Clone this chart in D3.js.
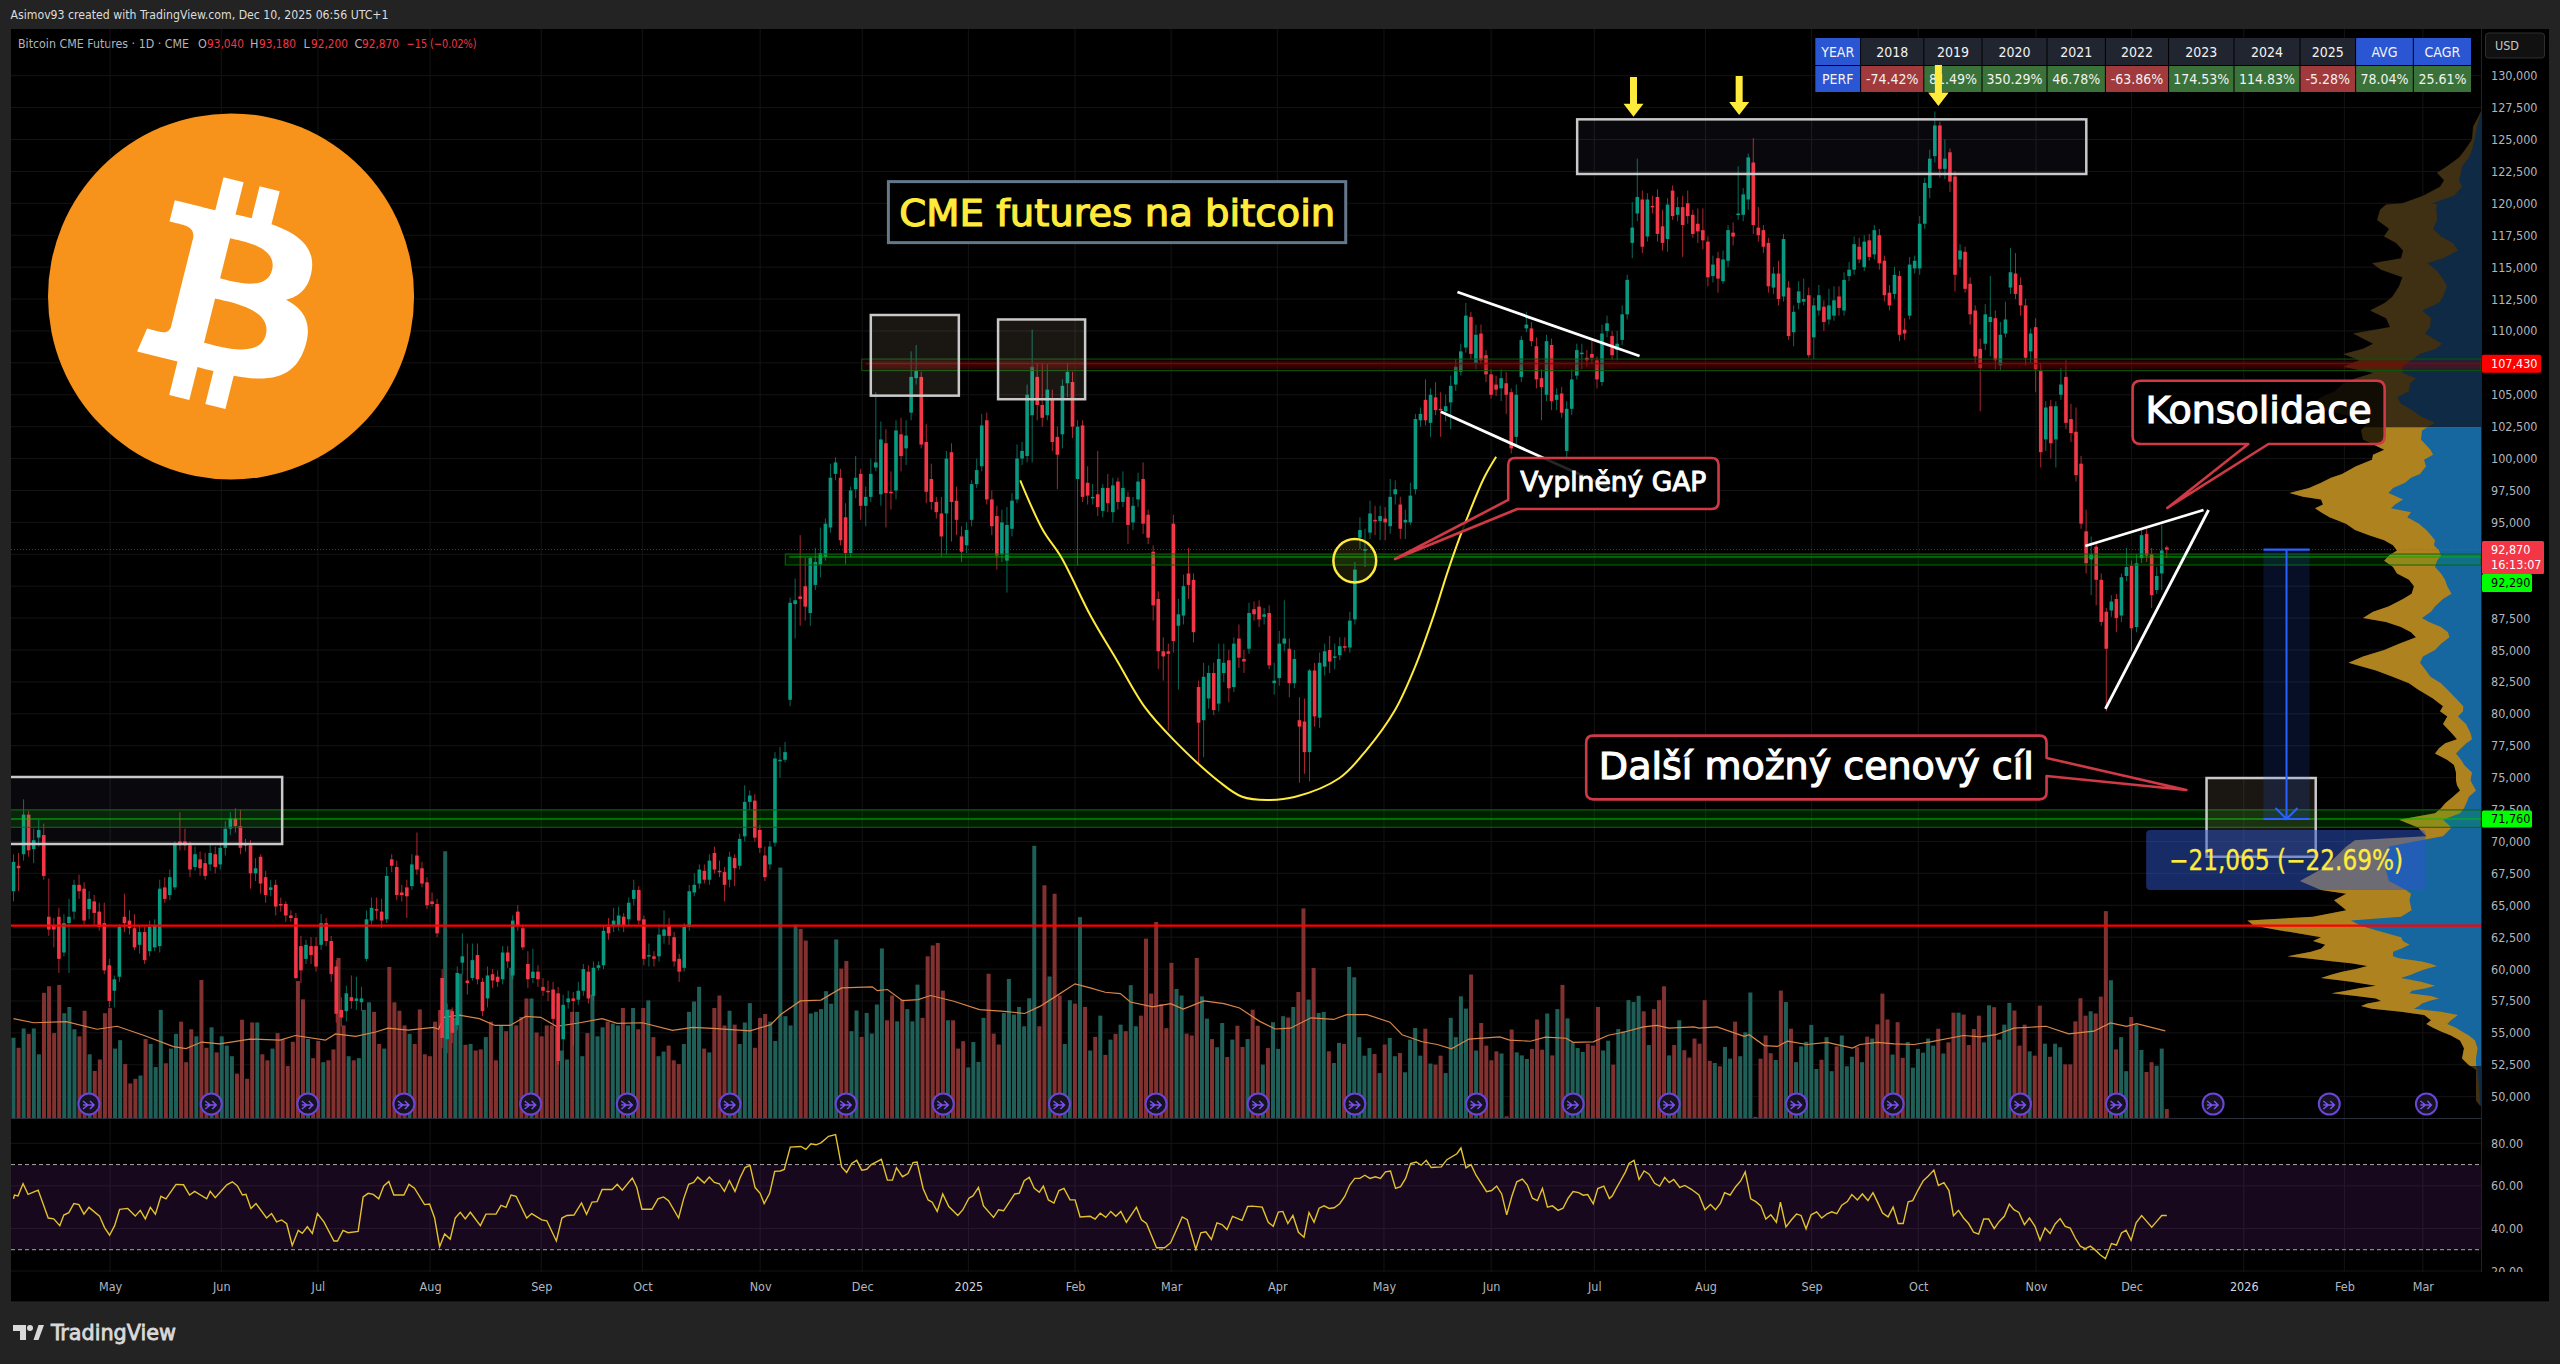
<!DOCTYPE html>
<html><head><meta charset="utf-8"><title>Bitcoin CME Futures</title>
<script src="https://cdn.jsdelivr.net/npm/d3@7"></script>
<style>
html,body{margin:0;padding:0;background:#232323}
svg{display:block}
text{font-family:"DejaVu Sans Condensed","DejaVu Sans",sans-serif;font-stretch:condensed}
.axis text{fill:#b2b5be;font-size:12.5px}
.axis path,.axis line{display:none}
</style></head><body>
<svg id="c" width="2560" height="1364"></svg>
<script>
// candle rows: [open, close, high, low] in thousands of USD
const candles2024a=[[66.1,68.4,69.0,65.3],[68.1,67.9,69.1,66.1],[69.0,72.1,73.3,68.5],[72.1,69.3,72.4,68.8],[69.4,70.1,71.0,68.3],[70.3,70.9,71.7,69.6],[70.5,67.3,71.4,67.0],[64.1,63.1,67.1,62.6],[63.4,63.1,64.0,61.7],[64.1,60.8,64.8,59.7],[61.3,63.6,64.3,61.0],[63.6,64.1,65.5,59.7],[64.5,66.6,67.0,63.9],[66.6,66.1,67.4,65.5],[66.3,63.8,66.8,63.5],[64.7,65.5,66.1,63.9],[65.3,64.4,65.8,63.4],[64.5,63.3,65.2,63.0],[63.6,59.9,65.2,59.6],[60.3,57.5,60.8,57.0],[58.3,59.2,59.5,57.0],[59.4,63.3,63.5,59.0],[64.1,63.6,65.9,62.9],[63.8,63.2,64.6,62.7],[63.2,61.7,64.3,61.5],[61.9,62.9,63.4,61.2],[62.9,60.7,63.3,60.4],[61.4,63.3,63.8,61.0],[61.7,63.4,63.9,61.4],[61.8,66.3,67.0,61.3],[66.4,65.5,67.2,65.2],[65.8,67.2,67.8,65.4],[66.4,69.8,70.0,66.2],[70.0,69.7,72.3,69.3],[70.0,69.7,71.0,69.3],[69.7,67.8,70.0,67.2],[68.0,69.0,69.6,67.7],[68.6,67.9,69.2,67.3],[68.3,67.3,69.1,67.0],[68.2,69.1,69.8,67.7],[69.0,68.0,69.6,67.5],[68.2,69.5,69.9,67.8],[69.5,71.0,71.6,68.9],[71.0,71.8,72.3,70.5],[71.8,71.2,72.6,70.7],[71.2,69.5,72.5,69.0],[69.8,69.7,70.2,69.2],[69.7,67.5,70.1,66.3],[67.5,67.9,68.7,66.9],[68.8,66.7,69.0,65.9],[67.2,65.8,67.7,65.2],[66.2,66.4,67.0,65.7],[66.6,64.9,67.0,64.2],[65.1,65.0,65.6,64.5],[65.1,64.2,65.3,63.7],[64.2,64.0,64.6,63.7],[64.0,59.3,64.4,59.2],[61.8,59.9,62.6,58.9],[60.8,61.9,62.3,60.4],[61.8,61.1,62.5,60.4],[61.8,60.2,62.5,59.8],[61.9,63.6,64.3,61.5],[63.6,62.2,64.0,61.8],[62.2,59.6,62.6,59.0],[60.2,56.5,60.7,55.8],[56.8,56.2,57.8,55.5],[56.7,58.1,58.7,55.9],[57.8,57.5,59.5,56.9],[57.5,57.7,59.4,56.8],[57.4,57.7,58.6,56.7],[60.8,63.9,64.6,60.6],[63.8,64.8,65.6,63.5],[64.7,64.6,65.6,63.9],[64.5,63.8,65.5,63.2],[63.9,67.3,68.0,63.6],[68.6,68.1,69.0,67.6],[68.0,65.8,68.5,65.4],[66.0,65.8,66.6,65.3],[66.4,65.7,67.0,64.0],[66.5,68.2,69.0,66.2],[68.9,67.8,70.7,67.4],[67.9,66.7,68.4,66.4],[66.8,65.0,67.2,64.7],[65.3,65.1,66.0,64.9],[65.1,62.8,65.5,62.5],[59.3,54.6,60.0,53.8],[54.5,56.8,57.3,53.4],[56.7,55.0,57.0,54.2],[55.6,59.7,60.2,55.2],[60.5,61.0,62.8,59.6],[59.1,58.9,62.0,58.0],[59.3,60.7,62.0,59.1],[61.1,59.2,62.0,58.8],[59.0,56.7,59.3,56.3],[57.7,59.5,60.2,57.0],[59.6,59.1,60.0,58.5],[59.4,59.0,59.9,58.6],[59.2,61.3,61.8,58.8],[61.3,60.6,61.8,60.1],[59.5,63.8,64.2,59.2],[64.5,63.4,65.0,63.0],[63.2,61.7,63.5,61.5],[60.4,59.2,61.4,58.5],[59.3,59.8,61.6,58.9],[59.8,59.2,60.3,58.6],[58.6,58.3,59.3,57.9],[58.3,58.2,59.1,57.5],[58.4,56.1,59.0,55.6],[58.1,52.8,58.6,52.5],[54.5,57.2,58.0,53.6],[57.4,57.7,58.3,56.9],[57.7,57.5,58.2,54.0],[57.6,58.3,59.0,57.2],[58.3,60.0,60.4,57.9],[59.8,57.7,60.3,57.3],[57.9,60.1,60.6,57.5],[60.1,60.3,60.6,59.9],[60.3,63.0,63.4,60.0],[63.3,62.8,64.0,62.3],[63.4,63.8,64.8,62.9],[63.4,64.2,64.9,63.0],[64.1,63.4,64.4,62.9],[63.9,65.2,65.6,63.4],[65.5,66.2,67.0,65.0],[66.2,63.8,66.5,63.5],[63.9,60.8,64.2,60.3],[61.0,61.1,62.0,60.2],[61.0,60.8,61.4,60.2],[61.0,62.7,63.5,60.6],[62.6,63.1,64.6,62.0],[63.4,62.6,64.0,61.9],[62.5,60.6,62.9,60.2],[60.8,59.8,61.2,59.0],[60.1,63.3,63.6,59.8],[63.3,66.1,66.6,63.0],[66.0,66.6,67.5,65.7],[66.7,67.8,68.2,66.3],[67.7,67.0,68.2,66.7],[67.0,68.5,69.0,66.6],[69.1,67.8,69.6,67.5],[67.7,67.6,68.5,67.2],[67.6,66.6,68.0,65.3],[67.0,68.8,69.2,66.4],[68.7,67.9,69.0,66.5],[68.1,70.2,70.6,67.8],[70.4,73.1,74.4,70.0],[73.1,73.6,74.0,72.5],[73.2,70.3,73.7,70.0],[70.9,69.5,71.3,69.1],[68.9,67.2,69.6,66.9],[68.2,69.6,70.0,67.8],[69.9,76.5,77.0,69.6],[76.3,76.4,77.4,75.0],[76.4,77.0,77.8,76.2]];
const candles2024b=[[81.1,88.7,89.1,80.6],[88.6,88.9,90.6,85.9],[89.2,89.0,94.0,86.9],[90.0,88.4,92.2,87.3],[87.9,92.2,92.3,86.9],[90.1,91.9,93.0,89.7],[91.7,92.6,94.6,90.7],[92.3,94.9,95.3,92.0],[94.6,98.5,99.6,94.2],[98.8,99.7,100.1,98.3],[98.5,93.6,99.2,93.2],[95.4,92.6,96.5,91.7],[92.6,97.5,97.8,92.3],[97.6,98.5,100.2,96.9],[98.8,96.3,99.2,95.2],[96.3,97.0,97.8,94.7],[97.0,98.8,100.0,96.6],[99.3,99.7,105.2,99.0],[97.2,101.5,102.9,96.3],[101.2,97.3,102.3,94.6],[97.4,97.3,99.0,96.0],[97.5,102.2,103.0,96.8],[101.9,100.2,103.2,99.0],[100.8,101.8,103.0,99.5],[103.6,106.4,108.4,103.0],[106.3,106.9,108.9,105.8],[106.4,101.1,106.8,100.8],[101.3,97.4,102.7,96.5],[98.4,96.6,99.6,96.0],[96.6,95.8,97.0,95.3],[95.7,93.9,97.0,92.3],[95.7,100.0,100.6,92.5],[100.5,96.6,101.2,93.5],[96.7,95.2,97.8,94.0],[93.9,92.7,94.7,91.9],[93.2,94.4,95.0,92.6],[95.2,98.0,98.3,94.7],[98.0,99.1,100.0,97.7],[99.4,102.6,103.5,99.0],[103.0,96.8,103.6,96.4],[96.8,94.7,97.5,94.0],[95.5,92.4,96.3,91.3],[92.5,95.0,96.0,91.9],[92.0,94.8,96.2,89.5],[94.5,96.7,97.3,93.9],[96.8,100.0,101.1,96.5],[100.0,100.6,101.3,99.5],[100.2,105.0,105.8,99.7]];
const candles2025a=[[103.4,107.2,110.1,99.7],[106.4,104.2,107.5,103.0],[104.2,103.2,107.5,102.5],[103.4,105.4,107.4,103.0],[104.6,101.3,105.4,100.6],[101.7,100.3,102.5,97.6],[101.9,105.7,106.2,100.8],[105.9,106.8,107.5,104.8],[106.0,102.5,106.8,101.6],[98.4,102.5,103.0,91.6],[102.6,97.0,103.0,96.6],[98.1,97.1,99.4,96.4],[96.9,97.0,98.0,96.4],[97.2,96.2,100.6,95.5],[95.9,97.7,98.0,95.4],[97.7,96.5,98.8,95.8],[95.8,97.9,98.5,95.0],[98.2,96.6,98.5,96.0],[96.6,97.7,99.0,96.2],[97.0,94.8,97.4,93.3],[95.0,96.3,97.0,94.4],[96.8,98.2,98.9,96.2],[98.4,94.9,99.7,94.1],[95.6,93.8,96.0,93.3],[92.7,88.5,93.2,87.3],[89.0,84.9,89.6,83.5],[84.9,84.5,86.0,82.6],[84.9,84.7,85.5,78.7],[94.9,85.7,95.6,84.8],[86.9,87.8,89.0,81.9],[87.7,90.0,90.9,87.0],[91.0,90.1,93.0,89.0],[90.5,86.4,91.0,85.6],[82.1,79.3,82.6,76.0],[79.5,82.9,84.0,76.6],[81.2,83.2,83.8,80.4],[83.2,80.3,84.0,79.9],[80.8,84.3,85.5,80.2],[83.2,84.0,85.5,82.5],[84.2,82.0,85.0,80.9],[82.1,85.5,86.0,81.7],[85.9,84.4,87.0,83.6],[84.3,84.1,85.0,83.2],[85.1,87.9,88.7,84.7],[88.2,87.8,88.8,87.3],[88.4,87.4,88.9,86.8],[87.6,87.8,88.3,87.0],[87.9,83.8,88.5,83.5],[82.4,82.6,84.0,81.5],[82.8,85.5,86.5,82.2],[85.5,85.9,88.9,84.9],[85.1,82.4,85.9,81.3],[82.4,84.3,85.0,82.0],[79.5,79.0,81.3,74.6],[79.4,77.0,81.2,75.3],[77.0,83.4,83.5,74.7],[83.4,79.8,84.0,79.0],[79.7,84.0,84.8,78.9],[83.7,84.9,85.5,83.0],[85.0,84.1,86.1,83.2],[84.4,84.5,85.5,83.5],[84.6,85.3,86.0,84.2],[85.3,85.2,86.0,84.9],[85.2,87.3,88.0,84.8],[87.4,91.3,91.9,87.0],[93.8,94.4,95.4,92.9],[92.8,92.9,94.5,91.5],[94.2,95.7,96.7,93.7],[95.2,95.1,96.3,94.0],[95.1,95.5,96.3,93.6],[95.3,95.0,96.2,93.6],[94.7,97.0,98.4,94.1],[97.2,97.6,98.3,96.4],[96.4,94.5,97.0,93.7],[95.0,95.2,96.0,93.7],[95.0,97.1,98.1,94.8],[97.6,103.1,103.5,97.2],[103.0,103.5,104.0,102.5],[104.6,103.0,106.2,102.6],[102.8,105.0,105.5,101.7],[104.8,103.8,106.0,103.4],[103.9,103.8,105.2,101.7],[103.7,104.1,105.0,102.9],[104.4,105.7,106.5,102.3],[105.8,107.2,107.8,105.3],[106.8,108.4,109.0,106.5],[108.7,111.2,112.2,108.3],[111.1,108.2,111.5,107.8],[107.5,109.7,110.5,107.0],[109.8,107.7,110.5,107.4],[108.1,106.6,108.5,106.0],[106.6,105.0,107.0,104.7],[105.8,105.4,106.5,104.9],[105.5,106.3,107.0,104.5],[105.9,105.0,106.8,103.5],[105.2,100.8,105.5,100.4],[101.7,105.0,105.8,101.0],[106.4,109.3,109.6,106.0],[110.2,110.5,111.5,109.9],[110.2,109.2,110.7,108.8],[108.8,106.2,109.5,105.5],[106.3,105.6,107.0,103.0],[105.0,109.2,109.7,104.5],[108.9,104.5,109.4,103.8],[104.6,105.0,105.5,103.8],[105.1,103.6,105.6,103.2]];
const candles2025b=[[100.6,103.9,104.5,99.7],[103.9,106.2,107.0,103.4],[106.5,108.5,109.0,106.2],[108.2,108.3,109.0,107.0],[107.9,107.7,108.5,107.2],[108.2,107.9,109.2,107.4],[107.7,106.2,108.0,105.5],[106.0,109.8,110.5,105.7],[110.0,110.6,111.2,109.5],[109.6,108.1,110.0,107.7],[108.5,109.0,110.0,107.7],[109.3,111.3,112.0,108.9],[111.3,114.0,114.4,110.9],[116.9,118.1,120.1,115.7],[119.2,120.5,123.5,118.6],[120.3,116.6,121.0,116.1],[117.4,120.3,120.8,117.0],[119.8,119.7,120.6,119.2],[120.5,117.6,121.1,117.0],[118.2,116.9,119.5,116.3],[117.2,119.9,120.4,116.2],[121.0,119.0,121.4,118.7],[119.1,119.7,120.5,118.6],[119.7,118.3,120.6,115.8],[120.0,119.0,121.0,118.4],[119.1,117.6,119.5,117.3],[118.4,117.8,119.6,116.9],[117.9,117.1,119.6,116.4],[117.0,114.2,117.4,113.5],[114.3,115.2,115.9,113.8],[115.7,114.1,116.2,113.0],[113.9,115.6,116.3,113.7],[115.5,117.9,118.3,115.0],[117.7,117.4,118.5,116.7],[119.1,119.2,122.9,118.7],[119.1,120.7,121.2,118.6],[120.3,123.6,123.9,119.5],[123.2,118.3,125.1,117.6],[118.1,117.5,119.7,117.0],[117.9,116.6,118.3,116.1],[116.9,113.5,117.3,113.0],[113.4,114.5,115.0,112.9],[114.5,112.5,115.5,112.0],[112.7,117.2,117.6,112.3],[113.4,109.6,113.9,109.3],[109.9,111.5,112.0,108.8],[112.2,113.1,113.9,111.7],[112.3,112.5,114.1,112.0],[112.8,108.1,113.4,107.9],[109.5,112.0,112.6,107.8],[111.6,112.8,113.6,111.2],[111.9,110.7,112.4,110.0],[110.9,112.0,113.3,110.5],[111.2,112.4,113.5,110.8],[112.7,111.8,113.5,111.2],[111.6,114.0,114.6,111.2],[114.3,114.8,115.4,113.9],[114.8,116.8,117.4,114.4],[116.6,115.6,117.3,115.3],[115.0,117.0,117.5,114.7],[117.1,115.8,117.6,115.5],[116.0,117.9,118.3,115.6],[117.5,115.3,118.0,114.8],[115.5,112.8,115.9,112.3],[113.0,112.0,113.6,111.6],[112.9,114.4,115.0,112.5],[114.3,109.7,114.7,109.2],[110.1,109.8,111.0,109.3],[111.2,115.2,115.8,110.9],[114.9,115.5,115.9,114.5],[114.9,118.4,119.0,114.4],[118.4,121.6,122.0,118.0],[121.2,123.5,124.2,120.4],[123.7,126.1,127.2,123.2],[126.1,122.7,126.4,122.0],[122.7,123.5,125.0,121.9],[124.0,121.7,124.3,120.9],[122.1,114.4,122.5,113.1],[115.6,116.3,116.8,115.0],[116.2,113.3,116.6,113.0],[113.7,111.3,114.2,110.5],[111.6,108.0,112.0,107.5],[108.6,107.1,109.4,103.7],[109.0,111.3,112.1,108.5],[110.7,111.1,114.3,108.0],[111.0,107.7,111.6,107.0],[107.3,109.7,110.7,106.9],[109.8,110.9,112.3,109.5],[113.4,114.6,116.5,112.9],[114.5,112.9,116.1,112.5],[113.6,112.0,114.2,111.2],[112.0,107.9,112.5,107.3],[108.4,109.8,110.2,107.5],[110.3,107.0,111.0,105.2],[106.9,100.5,107.5,99.3],[101.5,104.0,104.5,100.6],[104.1,101.2,104.6,100.0],[101.5,104.1,104.5,99.3],[105.0,105.8,107.1,104.6],[106.4,102.8,107.7,102.3],[103.1,102.0,104.3,101.3],[102.1,98.7,104.0,98.2],[99.6,94.9,100.2,94.5],[94.3,91.8,96.0,91.0],[92.1,92.5,93.9,89.3],[93.1,90.5,93.5,88.5],[90.5,87.2,91.0,86.9],[88.0,85.1,88.3,80.2],[88.1,88.8,89.3,87.6],[89.0,87.5,89.4,86.4],[87.7,90.7,91.0,87.2],[90.8,91.5,93.0,90.4],[91.6,86.7,92.0,84.9],[86.8,91.8,92.5,86.4],[92.2,94.0,94.4,91.8],[94.1,92.4,94.5,91.9],[92.5,89.3,93.0,88.3],[89.7,90.8,91.5,89.4],[91.0,92.8,94.8,89.7],[93.04,92.87,93.18,92.2]];

// daily contract volume, relative (100 = tallest bar, late Jan 2025)
const volume2024=[29.5,25.8,32.9,30.9,32.9,23.4,46,48.4,31.2,48.9,38.5,40.8,32.6,30,39.4,23.4,17.3,21.5,38.5,40.4,25.5,28.6,19.8,12.7,14.4,15.6,29,27.2,18.7,39.7,20.1,25.5,30.9,35.4,20.5,32.6,30,50.7,25.8,33.3,24.1,30,26.6,22.7,16.3,36.1,14.4,35.1,35.1,23.4,21.2,25.5,31.2,29,19.1,28,50.3,43.6,29,22,28.3,20.5,21.2,25.2,58.8,34,22.7,21.2,22,39.7,42.5,39,27.2,25.5,55.5,42.5,39.4,34,30.9,27.2,39.9,23.4,22.7,35.4,39.7,98,39.9,36.8,53,26.9,27.2,24.8,25.2,29.7,35.4,21.2,34,31.9,55.2,34,37.1,43.9,43.9,31.4,30,34,34,33.3,24.8,21.5,39,39,22.7,31.2,45.3,30,33.3,35.4,34.7,34,40.4,34,40.4,32.6,40.4,43.2,29.7,22.7,24.4,26.6,21.2,19.8,27.2,39,42.8,48.2,25.5,24.1,40.4,45,34,39.4,34.3,27.2,35.1,42.2,25.8,36.8,38.2,35.4,28.3,92,37.4,34,71,69.5,65.2,38.4,39,40,46.6,42,65.6,54.9,57.7,31.9,39.5,29.8,38.6,31,41.7,62.3,35.9,45,35.5,43.5,40,35.5,49,36.8,59.4,63.4,64.3,46.8,35.9,35.9,25.5,28.2,18.6];
const volume2025=[27.9,20.6,36.8,53,31,27,38.6,51.1,38,40.8,33.7,44,100,33.7,85.5,52,82.4,45,27.2,43.3,42,73.8,40.8,24.8,29.8,37.6,23.2,28.8,30.9,34.3,31.9,48.8,33.7,37.6,65.9,45.7,72,41.9,33,57,47.4,45,31,30.3,58.8,44.7,36.5,29,26,34.9,22.4,28.8,33.9,26.1,29,39.8,33.9,19.6,25.7,35.2,25.4,37.4,36.9,40.8,46.3,77,43.5,55.1,38.6,39,24.5,20.2,27.6,27.2,55.5,51.7,29.7,22.9,25.7,23.5,16.5,27,29.4,22.7,23.9,16.8,28.8,33.1,22.9,32.8,20,19.6,22.9,16.5,36.8,29.7,44.7,40.2,52.7,24.8,34.9,26.6,21.2,24.5,23.7,0.6,32.5,24.1,23,21.7,25.4,36.2,25.1,38.4,23,40,48.9,36.6,27.8,25.7,24.3,27.2,26.6,40.8,24.8,28.4,19.6,32.7,31.9,43.3,42.6,44.9,39.2,26.8,40,43.3,48.4,23,26.8,35.9,24.9,22.2,29.2,27.3,43.3,21,20.2,19,26.1,21.8,35.4,22.7,31.5,46.1,0.4,21.8,30.3,23.8,21.3,46.8,42.6,32.8,20.5,26.3,28,34.2,18,21.4,29.7,17.2,26.3,30.3,19,22.5,26,20.5,29.9,29.2,34.4,45.7,36.2,23.3,35.2,22.1,27.9,18.5,25.4,24,29.2,26.6,32.8,23.7,27.8,38.7,38.7,38,26.8,32.7,37.6,27.8,41.4,40.7,28.8,34.3,42.3,39.5,26.6,34.3,24.5,22.9,41.3,27.3,22.5,27.3,26,19.7,19.7,35.5,44,37.6,39.2,38.4,44.6,76,50.6,25.2,29.7,17.2,37.1,34.3,25,16.9,20.5,19.2,25.5,3.3];

// volume moving average, [trading-day index, value]
const volumeMA=[[0,36.5],[4,35],[10.5,35.4],[16.6,32.6],[20.6,33.7],[25.7,30.5],[31.8,26.2],[34.3,25.5],[37.4,27.9],[41,27.2],[47,29],[53,28.6],[56,30.3],[62,28.6],[64,30.9],[68,30],[72,31.6],[74.4,33],[78.5,32.3],[83.5,33.3],[84.5,32.6],[85.5,37],[88.6,37.8],[92.6,36.5],[95.7,34],[98.7,34],[101.8,37.3],[104.8,37],[107.9,33.7],[112,34.8],[117,36.5],[120,34.8],[125,35],[131,32.2],[135,33.3],[139,32.9],[146.4,32],[150.5,34.3],[152.5,38],[156.4,43],[160.5,43.3],[164.6,47.8],[170.7,48.2],[171.7,46.8],[173.7,47.2],[176.7,43.1],[179.8,43.5],[182.3,45],[186.9,42.9],[192,39.8],[197,39.2],[201,38.4],[204,41],[207,44.5],[211,49.3],[214,47.8],[217,46.2],[220,45.7],[222,42.6],[226.4,40.8],[230,42],[232.5,40],[236.6,43],[240.6,42],[243.7,40.4],[247.7,35.5],[250.8,32.7],[253.8,33],[257.9,36.8],[262.4,36.2],[265,38],[269,38],[273.6,35.2],[276,30.6],[280,28],[283,27],[285.8,25.4],[289.3,29],[295.4,29.8],[297.4,28.6],[301.5,28.2],[304.5,29.7],[308.6,29.3],[310,27.8],[314,28],[317,30.4],[320,31.5],[324,33.5],[326.7,34],[329,33],[334,33.5],[335,33],[338.6,33.5],[344,30],[345,30.6],[348,26.6],[350.6,26.3],[352.6,28.2],[356.5,27],[360.5,27.8],[365.5,25.7],[367,27],[370.5,27.8],[373.8,27.2],[377.7,27],[381,28],[387.6,30.3],[391,29.8],[394,30.6],[397.6,33],[404,33.7],[408.5,30.9],[413.5,31.9],[416.8,34.9],[420,33.7],[422,34.7],[427.7,32]];

// RSI, [trading-day index, value]
const rsi2024=[[0,53.9],[0.2,55.7],[0.9,55.3],[1.9,61],[2.9,56],[4.9,58],[6.9,44.9],[8,44.5],[9.2,41.3],[10,46.3],[11,47.4],[12,51.7],[13,51.2],[14,46.7],[15,49.9],[17.1,45.8],[18.1,40.4],[19.1,36.8],[20.1,41.3],[21.1,49],[22.7,49.4],[24.2,45.8],[25.2,48.5],[26.2,44.5],[27.2,49.9],[28.2,46.7],[29.3,55.1],[30.3,53.9],[32.3,60.7],[33.8,60.5],[35,55.7],[36,57.4],[38.4,53.9],[39.1,57.4],[40.1,54.4],[42.4,60.5],[43.5,61.9],[44.5,60],[45.5,55.7],[46.2,56],[47.2,49.4],[48.2,51.7],[50.3,44.9],[51.3,47],[52.3,43.1],[53.3,44],[54.3,42.2],[55.4,32],[56.6,39.1],[57.4,37.7],[58.4,40.8],[59.4,37.7],[60.4,47],[61.7,43.1],[63.7,34.1],[64.4,34.1],[65.5,39.1],[66.5,38],[68.5,38.6],[69.5,54.8],[70.5,56.5],[71.5,56],[72.6,53.9],[73.6,60],[74.6,62.1],[75.6,55.7],[77.6,55.7],[78.6,60.7],[79.7,58.9],[81.7,51.2],[82.7,51.5],[83.7,44.9],[84.7,31.4],[85.7,37.4],[86.8,35],[87.8,44.9],[88.8,47.6],[89.8,44.5],[90.8,47.6],[92.8,41.3],[93.9,46.7],[95.9,46.7],[96.9,50.8],[97.9,49.9],[98.9,55.7],[99.9,55.1],[102,44.9],[103,47],[105,44],[106,43.6],[107.9,34.1],[109,44.9],[110,46.1],[111.4,46.3],[112.9,52],[113.9,46.7],[115,52.4],[116,52.6],[117,58.3],[119,58.3],[120,60.7],[121,58],[123,63.7],[123.9,59.2],[124.9,49],[126.9,49],[128.1,53.9],[129.2,54.8],[130.2,53],[132.2,44.9],[133.2,53.9],[134.2,60.7],[135.2,61.6],[136,64.1],[137.3,61.4],[138.3,64.1],[139.3,61.6],[140.3,61],[141.3,57.4],[142.3,62.5],[143.4,57.4],[144.4,63.7],[145.4,68.6],[146.4,69.6],[147.4,59.2],[148.4,56.5],[149.2,51.7],[150.3,56.5],[151.3,66.8],[152.4,67],[153.2,67.7],[154.4,78.2],[156.5,78.5],[157.5,77.1],[158.5,79.8],[159.5,79.3],[160.5,80.2],[162,83.3],[163.4,84.1],[164.6,68.9],[165.6,66.3],[166.6,70.5],[167.6,72],[168.6,67.4],[169.6,67.8],[170.5,70],[172.5,72.5],[173.7,62.7],[174.7,62.7],[175.5,68.5],[176.7,64.3],[177.8,65.8],[178.8,70.9],[179.6,71.2],[180.8,58.8],[181.8,53.4],[182.6,52.3],[183.6,48],[184.7,56.2],[185.9,50.3],[187.7,46.1],[188.7,48.8]];
const rsi2025=[[189.9,54.2],[190.7,55.3],[191.8,59.3],[192.8,50.6],[194.8,45.2],[195.8,48.8],[196.8,48.3],[199,56.2],[199.9,56.5],[200.9,62.4],[201.9,64],[202.9,58.8],[203.9,57],[204.7,59.9],[205.7,53.4],[206.8,51.9],[207.8,57.8],[208.8,58.8],[210,53.4],[211,53.4],[212,45.4],[214,45.7],[215,44.4],[216,47.2],[217.1,45.2],[218.1,48],[219.1,45.7],[220.1,48],[221.2,42.9],[223.2,50],[224.2,44.1],[225.2,42.3],[227.2,30.9],[228.8,30.9],[230,33.3],[232.3,45.4],[233.3,44.1],[235,30.2],[236,37.9],[237,38.4],[238.1,34.8],[239.2,42.6],[240.2,41.8],[241.2,39.5],[242.3,45.7],[244.2,43.8],[245.3,50.3],[246.2,50.5],[248.2,50],[249.4,42.9],[250.4,41],[251.4,47.7],[252.3,48],[253.3,42.3],[254.3,46.1],[255.4,38.2],[256.5,35.9],[257.5,47.5],[258.5,42.9],[259.5,49.5],[260.5,50.6],[261.5,49.4],[262.5,49.7],[263.6,51.6],[264.6,55],[265.6,60.4],[266.6,63.5],[267.6,63.5],[268.6,65],[269.6,63.5],[270.7,64.3],[271.7,63.5],[272.7,66.6],[273.7,67],[274.7,58.8],[275.7,59.6],[276.7,63.5],[277.7,70.5],[278.8,71.2],[279.8,69.7],[280.8,72],[281.8,68.6],[283.8,68.9],[284.9,72.3],[286.9,75.1],[287.7,77.8],[288.7,68.5],[289.7,70],[290.7,65],[292.8,57.3],[293.8,57.8],[294.8,59.9],[295.8,56.2],[296.8,46.4],[297.8,55],[298.8,61.9],[299.9,63.2],[300.9,60.4],[301.9,54.2],[302.9,53.1],[303.9,58.8],[304.9,50],[305.9,50.6],[307,48.5],[308,49.5],[309,54.2],[310,57.3],[311.1,56.8],[312,55.6],[312.9,55.9],[314,51.6],[314.9,58.7],[316.1,59.9],[317.2,54],[317.8,55.3],[318.4,58.1],[319.4,62.3],[320.4,66.6],[321.1,70.5],[322.1,72],[323.1,63],[324.1,67],[325.1,65.5],[326.2,61.2],[327.2,59.9],[328.2,64],[329.1,61.5],[330,63],[331.2,59.3],[332.2,60.2],[333.5,58.4],[335,55.7],[336.2,48.8],[337.3,51.2],[338.3,48.8],[339.3,51.9],[340.1,56.8],[341.2,55.7],[342.3,59.6],[343.3,62.3],[344.2,66.6],[345.3,53.9],[346.3,52.6],[347.3,50.6],[348.3,44.4],[349.3,46.4],[350.4,42.9],[351.2,52.3],[352.3,40.7],[353.4,44.1],[354.4,46.8],[355.3,46.1],[356.3,39.8],[357.3,46.4],[358.4,47.8],[359.4,44.9],[360.5,46.9],[361.4,47.8],[362.4,46.9],[363.4,50.9],[364.5,52.6],[365.4,55.9],[366.5,53.4],[367.5,56.2],[368.6,53.1],[369.6,56.8],[370.6,51.9],[371.5,47.2],[372.6,45.4],[373.6,50],[374.6,42.3],[375.6,42.3],[376.6,52.5],[377.5,53.1],[378.5,57.8],[379.6,62.4],[380.6,64.6],[381.7,67.4],[382.6,60.2],[383.7,61.5],[384.7,57.8],[385.6,46],[386.6,48.5],[387.6,44.9],[388.6,42.3],[389.6,38.2],[390.6,37.3],[391.6,44.4],[392.6,44.4],[393.7,39.9],[394.7,43.3],[395.7,45.7],[396.7,51.4],[397.6,48.8],[398.6,47.5],[399.7,41.8],[400.7,44.9],[401.8,41],[402.8,34.4],[403.8,40.2],[404.8,37.6],[405.8,42.1],[406.8,44.6],[407.8,41],[408.8,40.2],[409.8,35.5],[410.8,31.7],[411.8,30.5],[412.8,31.7],[413.8,29.8],[414.8,27.5],[415.8,25.8],[417,32.9],[418,32.2],[419,37.9],[419.9,39.2],[420.9,34.4],[421.9,42.6],[423,46],[424,43.3],[425,40.6],[426,43.3],[427,46.1],[428,46.1]];

// volume profile rows: [price k, total, up-part]
const profileRows=[[127.2,0,0],[126,8,4],[125,9,6.5],[124.2,16,9],[122.9,34,19],[122.4,44,20],[121.3,41,19],[120,78.6,48.8],[119.5,101,44.8],[118.7,104,43.8],[117.4,97,40],[116.3,78,23],[115.3,109,53.7],[114.2,78.6,39],[112.7,88.5,37.8],[111.6,111,58.7],[110.3,91,51],[109.8,128,56],[109,108,39],[108.2,138,61],[107.2,138,78.6],[106.7,108,78.6],[105.9,138,71],[104.8,160,83.6],[103.8,158,69],[102.8,113,46],[102.2,120,59],[100.7,96.8,50.5],[99.9,109,57],[98.8,139,61],[98.1,160,76],[97.3,191.5,92.6],[96.8,160,78],[96.1,166,90],[95.4,151.5,73.7],[94.4,126,54.7],[93.6,96.8,46],[92.8,84,42],[92,96.8,44],[91,84,40],[90,67,33.7],[89.4,69.4,29.5],[88.4,92.6,46],[87.5,118,59],[86.8,80,40],[86,65,31.6],[85,96.8,46],[84,132.6,61],[82.9,88.4,50.5],[81.9,63,33.7],[80.6,38,17.7],[79.8,33.7,23],[78.5,29.5,10.5],[77.7,35.8,14.7],[76.9,46,25],[76,27,16.8],[74.8,25,10.5],[74,21,5],[73,35.8,14.7],[72.2,46,21],[71.7,82,38],[71.1,63,29.5],[70.4,54.7,38],[70.1,126,60],[69.6,134.7,92],[68,155.7,96],[66.9,181,92],[66.2,160,75],[65.9,134.7,70],[65.4,147,71.5],[64.6,134.7,69.4],[64.1,168,80],[63.8,233.6,130],[63.4,227,120],[63.05,202,105],[62.5,160,80],[61.9,155.7,71.5],[61.35,170,88],[61,193.6,88],[60.6,147,59],[60.25,113.6,44],[59.8,139,63],[59.3,160,80],[58.7,105,46],[58.3,134.7,69],[58.1,149.4,71.5],[57.7,105,42],[57.3,113.6,59],[56.9,109,67],[56.4,56.8,23],[55.7,54.7,33.7],[55.1,40,19],[54.4,21,6],[53.8,17,3.4],[53,19,5],[52.5,12.6,5],[52.1,5,3.4],[49.7,5,1],[49.3,1,1]];
const profileDetail=[[123.6,22,12],[121.8,37,22],[120.6,58,27],[119.9,95,44],[118,92,48],[116.9,85,28],[115.7,80,38],[114.8,100,45],[113.5,82,34],[112.2,96,42],[111,95,50],[108.6,118,45],[107.7,122,70],[106.3,125,65],[105.3,146,72],[104.3,168,80],[103.3,130,60],[101.5,118,60],[100.3,108,48],[99.4,125,55],[98.5,150,70],[97.7,172,88],[97,178,84],[96.4,158,86],[95.8,160,70],[94.9,135,62],[94,112,50],[93.2,88,47],[92.4,92,40],[91.5,88,46],[90.5,72,36],[89,78,38],[88,108,50],[87.2,95,52],[86.4,70,33],[85.5,82,40],[84.5,118,58],[83.4,105,55],[82.4,72,40],[81.2,48,25],[80.2,41,18],[79.2,38,15],[78,24,9],[77.3,42,20],[76.4,34,20],[75.4,25,9],[74.4,24,8],[73.5,28,12],[72.6,40,17],[62.2,168,78],[61.6,160,80],[60.85,175,82],[60.45,130,52],[60,125,55],[59.55,150,70],[59,130,60],[58.5,122,55],[57.9,125,50],[57.5,100,52],[57.1,120,62],[56.65,80,40],[56,50,30],[55.4,48,25],[54.8,30,12]];

const priceTicks=d3.range(50,130.1,2.5);
const hiddenPriceLabels=[90,92.5,107.5];
const rsiTicks=[80,60,40,20];
const timeIdx=[19.2,41.3,60.5,82.8,104.9,125,148.4,168.7,189.8,211,230.1,251.2,272.4,293.7,314.2,336.3,357.4,378.6,402,421,443.3,463.3,478.9];
const timeLabels=["May","Jun","Jul","Aug","Sep","Oct","Nov","Dec","2025","Feb","Mar","Apr","May","Jun","Jul","Aug","Sep","Oct","Nov","Dec","2026","Feb","Mar"];
const eventIdx=[15,39.3,58.5,77.6,102.8,122,142.4,165.5,184.8,207.9,227.1,247.4,266.6,290.8,310,329.1,354.4,373.6,398.9,418,437.2,460.3,479.6];
const tableYears=["YEAR","2018","2019","2020","2021","2022","2023","2024","2025","AVG","CAGR"];
const tablePerf=["PERF","-74.42%","81.49%","350.29%","46.78%","-63.86%","174.53%","114.83%","-5.28%","78.04%","25.61%"];
const tableEdges=[1814.8,1860.6,1923.8,1982,2047,2105.4,2168.6,2234,2300,2355.6,2413.3,2471.5];
const bowlCurve=[[200.1,98.3],[204.6,94.4],[208.2,92.3],[214.2,87.6],[219.3,84.2],[224.9,80.5],[230.5,78],[239.6,74.7],[244.2,73.5],[249.2,73.25],[254.8,73.5],[263.5,74.95],[269,77.2],[274.6,80.3],[278.6,83.7],[282.2,87.6],[285.2,91.3],[288.3,94.7],[292.3,98.5],[294.7,100.15]];
// drawn rectangles: [index1, index2, priceTop, priceBottom, tint]
const drawnBoxes=[[-2,53.4,75.05,69.8,"cool"],[170.4,187.9,111.25,104.93,"warm"],[195.7,213,110.9,104.65,"warm"],[310.8,412,126.58,122.3,"cool"],[435.9,457.6,74.97,68.8,"warm"]];
// white trend lines: [index1, price1, index2, price2]
const trendLines=[[287,113.05,323.2,108.04],[283.7,103.67,319,97.4],[411.8,93.15,435.3,95.97],[436.3,95.97,415.8,80.38]];
const arrowsIdx=[322,343,382.6];

const candles=[...candles2024a,...candles2024b,...candles2025a,...candles2025b];
const N=candles.length;
const volumes=[...volume2024,...volume2025];
const rsi=[...rsi2024,...rsi2025];
const profile=[...profileRows,...profileDetail].sort((a,b)=>b[0]-a[0]);

const L=11,R=2481,FR=2549,T=29,VB=1118,RB=1272,B=1302;
const GREEN="#089981",RED="#f23645";
const xBar=d3.scaleLinear([0,N-1],[13.5,2166.8]);
const xVol=d3.scaleLinear([0,volumes.length-1],[13.5,2166.8]);
const x=d3.scaleLinear([0,428],[13.5,2166.8]);
const y=d3.scaleLinear([130,50],[75.7,1096.7]);
const yV=d3.scaleLinear([0,100],[VB,845.8]);
const yR=d3.scaleLinear([80,20],[1143.3,1271]);
const pX=d3.scaleLinear([0,200],[R,R-200]);

const svg=d3.select("#c");
const defs=svg.append("defs");
function clip(id,a,b,w,h){defs.append("clipPath").attr("id",id).append("rect").attr("x",a).attr("y",b).attr("width",w).attr("height",h);}
clip("main",L,T,R-L,VB-T);clip("rsi",L,VB,R-L,RB-VB);
clip("bright",R-260,y(102.45),260,y(52.4)-y(102.45));
clip("axisR2",0,VB,FR-R,RB-VB);

svg.append("rect").attr("width",2560).attr("height",1364).attr("fill","#232323");
svg.append("rect").attr("x",L).attr("y",T).attr("width",FR-L).attr("height",B-T).attr("fill","#000");

// header texts
svg.append("text").attr("x",10.5).attr("y",18.5).attr("fill","#dcdcdc").style("font-size","12.5px").attr("textLength",378).attr("lengthAdjust","spacingAndGlyphs").text("Asimov93 created with TradingView.com, Dec 10, 2025 06:56 UTC+1");
const lg=svg.append("g").style("font-size","12.5px");
[["Bitcoin CME Futures · 1D · CME",18,"#b2b5be",171],["O",198,"#b2b5be",0],["93,040",207,RED,37],["H",250,"#b2b5be",0],["93,180",259,RED,37],["L",303.6,"#b2b5be",0],["92,200",311,RED,37],["C",354.6,"#b2b5be",0],["92,870",362,RED,37],["−15 (−0.02%)",406.6,RED,70]].forEach(d=>{
  const t=lg.append("text").attr("x",d[1]).attr("y",48).attr("fill",d[2]).text(d[0]);
  if(d[3])t.attr("textLength",d[3]).attr("lengthAdjust","spacingAndGlyphs");
});

// grid
const grid=svg.append("g").attr("stroke","#141416").attr("stroke-width",1);
grid.selectAll(".h").data(priceTicks).join("line").attr("x1",L).attr("x2",R).attr("y1",d=>y(d)).attr("y2",d=>y(d));
grid.selectAll(".v").data(timeIdx).join("line").attr("x1",d=>x(d)).attr("x2",d=>x(d)).attr("y1",T).attr("y2",RB);
grid.selectAll(".r").data(rsiTicks).join("line").attr("x1",L).attr("x2",R).attr("y1",d=>yR(d)).attr("y2",d=>yR(d));

// volume profile
const area=k=>d3.area().x0(R).x1(d=>pX(d[k])).y(d=>y(d[0]));
const pr=svg.append("g");
pr.append("path").attr("d",area(1)(profile)).attr("fill","#3f2f13");
pr.append("path").attr("d",area(2)(profile)).attr("fill","#0e2a45");
const prB=pr.append("g").attr("clip-path","url(#bright)");
prB.append("path").attr("d",area(1)(profile)).attr("fill","#ad821f");
prB.append("path").attr("d",area(2)(profile)).attr("fill","#1666a0");

// main pane clipped
const main=svg.append("g").attr("clip-path","url(#main)");
const isUp=i=>{const c=candles[Math.min(N-1,Math.round(i*(N-1)/(volumes.length-1)))];return c[1]>=c[0];};
main.append("g").selectAll("rect").data(volumes).join("rect")
 .attr("x",(d,i)=>xVol(i)-2).attr("width",4).attr("y",d=>yV(d)).attr("height",d=>VB-yV(d))
 .attr("fill",(d,i)=>isUp(i)?"#1f5f58":"#81312f");
main.append("path").datum(volumeMA).attr("fill","none").attr("stroke","#d9864a").attr("stroke-width",1.2)
 .attr("d",d3.line().x(d=>x(d[0])).y(d=>yV(d[1])));

const cg=main.append("g");
cg.selectAll(".w").data(candles).join("line").attr("x1",(d,i)=>xBar(i)).attr("x2",(d,i)=>xBar(i))
 .attr("y1",d=>y(d[2])).attr("y2",d=>y(d[3])).attr("stroke",d=>d[1]>=d[0]?GREEN:RED).attr("stroke-width",1).attr("stroke-opacity",.7);
cg.selectAll(".b").data(candles).join("rect").attr("x",(d,i)=>xBar(i)-1.8).attr("width",3.6)
 .attr("y",d=>y(Math.max(d[0],d[1]))).attr("height",d=>Math.max(1.5,Math.abs(y(d[0])-y(d[1]))))
 .attr("fill",d=>d[1]>=d[0]?GREEN:RED);

// horizontal levels
function band(i0,pT,pB,center,fill,edge,centerCol){
  const g=main.append("g");
  g.append("rect").attr("x",x(i0)).attr("width",R-x(i0)).attr("y",y(pT)).attr("height",y(pB)-y(pT)).attr("fill",fill).attr("stroke",edge).attr("stroke-width",1);
  g.append("line").attr("x1",x(i0)+4).attr("x2",R).attr("y1",y(center)).attr("y2",y(center)).attr("stroke",centerCol).attr("stroke-width",1);
}
band(-5,72.47,71.11,71.76,"rgba(0,190,0,.16)","#0a6a0a","#00c000");
band(153.4,92.52,91.66,92.29,"rgba(0,170,0,.14)","#0a6a0a","#00b000");
band(168.6,107.8,106.89,107.43,"rgba(110,0,0,.22)","#0a5a0a","#990000");
main.append("rect").attr("x",x(170)).attr("width",R-x(170)).attr("y",y(107.65)).attr("height",y(107.05)-y(107.65)).attr("fill","rgba(150,0,0,.22)");
main.append("line").attr("x1",L).attr("x2",R).attr("y1",y(92.87)).attr("y2",y(92.87)).attr("stroke","rgba(242,54,69,.6)").attr("stroke-dasharray","1,2");
main.append("line").attr("x1",L).attr("x2",R).attr("y1",y(63.4)).attr("y2",y(63.4)).attr("stroke","#ff0000").attr("stroke-width",2.2);

// event markers
const ev=main.append("g").selectAll("g").data(eventIdx).join("g").attr("transform",d=>`translate(${x(d)},1104)`);
ev.append("circle").attr("r",10.5).attr("fill","#15131f").attr("stroke","#6a45d8").attr("stroke-width",2);
ev.append("path").attr("d","M-6,-3L-1,1L-6,5M-6,1H5M1,-3L5,1L1,5").attr("fill","none").attr("stroke","#7a52f0").attr("stroke-width",1.5);

// rectangles
main.append("g").selectAll("rect").data(drawnBoxes).join("rect")
 .attr("x",d=>x(d[0])).attr("width",d=>x(d[1])-x(d[0])).attr("y",d=>y(d[2])).attr("height",d=>y(d[3])-y(d[2]))
 .attr("fill",d=>d[4]==="cool"?"rgba(170,180,255,.05)":"rgba(255,230,180,.1)").attr("stroke","#c9c9c9").attr("stroke-width",2.5);

// yellow curve and circle
main.append("path").datum(bowlCurve).attr("fill","none").attr("stroke","#ffeb3b").attr("stroke-width",2)
 .attr("d",d3.line().x(d=>x(d[0])).y(d=>y(d[1])).curve(d3.curveCatmullRom));
main.append("ellipse").attr("cx",x(266.6)).attr("cy",y(92)).attr("rx",21.4).attr("ry",21.7).attr("fill","rgba(255,235,59,.1)").attr("stroke","#ffeb3b").attr("stroke-width",2.5);

// trend lines
main.append("g").selectAll("line").data(trendLines).join("line")
 .attr("x1",d=>x(d[0])).attr("y1",d=>y(d[1])).attr("x2",d=>x(d[2])).attr("y2",d=>y(d[3]))
 .attr("stroke","#fff").attr("stroke-width",2.8);

// projection tool
const tool=main.append("g");
tool.append("rect").attr("x",x(447.2)).attr("width",x(456.4)-x(447.2)).attr("y",y(92.87)).attr("height",y(71.76)-y(92.87)).attr("fill","rgba(41,98,255,.15)");
tool.selectAll("line.e").data([92.87,71.76]).join("line").attr("x1",x(447.2)).attr("x2",x(456.4)).attr("y1",d=>y(d)).attr("y2",d=>y(d)).attr("stroke","#2962ff").attr("stroke-width",2.2);
tool.append("line").attr("x1",x(451.8)).attr("x2",x(451.8)).attr("y1",y(92.87)).attr("y2",y(71.76)).attr("stroke","#2962ff").attr("stroke-width",2);
tool.append("path").attr("d",`M${x(451.8)-11},${y(71.76)-11}L${x(451.8)},${y(71.76)}L${x(451.8)+11},${y(71.76)-11}`).attr("fill","none").attr("stroke","#2962ff").attr("stroke-width",2);
tool.append("rect").attr("x",x(423.9)).attr("width",x(479.4)-x(423.9)).attr("y",y(70.9)).attr("height",y(66.2)-y(70.9)).attr("rx",4).attr("fill","rgba(46,86,204,.5)");
function bigText(g,str,cx,by,size,w,col,sw){
  return g.append("text").attr("x",cx).attr("y",by).attr("text-anchor","middle").attr("fill",col).attr("stroke",col).attr("stroke-width",sw)
   .style("font-size",size+"px").attr("textLength",w).attr("lengthAdjust","spacingAndGlyphs").text(str);
}
bigText(tool,"−21,065 (−22.69%)",x(451.7),870,28,234,"#ffeb3b",.3);

// yellow arrows
main.append("g").selectAll("path").data(arrowsIdx).join("path").attr("fill","#ffeb3b")
 .attr("d",(d,i)=>{const cx=x(d),top=[77,76,65][i],tip=[116.7,115,105.7][i];return `M${cx-3.5},${top}H${cx+3.5}V${tip-13}H${cx+10}L${cx},${tip}L${cx-10},${tip-13}H${cx-3.5}Z`;});

// text notes
const notes=main.append("g");
notes.append("rect").attr("x",x(173.9)).attr("width",x(264.8)-x(173.9)).attr("y",y(121.7)).attr("height",y(116.92)-y(121.7)).attr("fill","#000").attr("stroke","#63788a").attr("stroke-width",3);
bigText(notes,"CME futures na bitcoin",x(219.4),225.7,38,436,"#ffeb3b",1.1);
const RC="#cf3a46";
function note(d,fill){notes.append("path").attr("d",d).attr("fill",fill).attr("stroke",RC).attr("stroke-width",2.6).attr("stroke-linejoin","round");}
{const a=x(312.6),b=x(404.1),t=y(78.29),u=y(73.3),r=7;
 note(`M${a+r},${t}H${b-r}Q${b},${t} ${b},${t+r}V${y(76.54)}L${x(431.9)},${y(74.03)}L${b},${y(75.13)}V${u-r}Q${b},${u} ${b-r},${u}H${a+r}Q${a},${u} ${a},${u-r}V${t+r}Q${a},${t} ${a+r},${t}Z`,"#000");
 bigText(notes,"Další možný cenový cíl",(a+b)/2,779.3,38,435,"#fff",1.1);}
{const a=x(421.2),b=x(471.3),t=y(106.1),u=y(101.14),r=8;
 note(`M${a+r},${t}H${b-r}Q${b},${t} ${b},${t+r}V${u-r}Q${b},${u} ${b-r},${u}H${x(448.2)}L${x(428.1)},${y(96.13)}L${x(444.2)},${u}H${a+r}Q${a},${u} ${a},${u-r}V${t+r}Q${a},${t} ${a+r},${t}Z`,"rgba(0,0,0,.72)");
 bigText(notes,"Konsolidace",(a+b)/2,423,38,226,"#fff",1.1);}
{const a=x(297.1),b=x(338.9),t=y(100.05),u=y(96.05),r=7;
 note(`M${a+r},${t}H${b-r}Q${b},${t} ${b},${t+r}V${u-r}Q${b},${u} ${b-r},${u}H${x(298.9)}L${x(274.6)},${y(92.13)}L${a},${y(96.76)}V${t+r}Q${a},${t} ${a+r},${t}Z`,"rgba(0,0,0,.85)");
 bigText(notes,"Vyplněný GAP",(a+b)/2,490.7,26,186,"#fff",.9);}

// RSI pane
const rp=svg.append("g").attr("clip-path","url(#rsi)");
rp.append("rect").attr("x",L).attr("width",R-L).attr("y",yR(70)).attr("height",yR(30)-yR(70)).attr("fill","rgba(140,50,180,.16)");
rp.selectAll("line.d").data([70,30]).join("line").attr("x1",L).attr("x2",R).attr("y1",d=>yR(d)).attr("y2",d=>yR(d)).attr("stroke","#a8a8a8").attr("stroke-dasharray","4,3");
rp.append("path").datum(rsi).attr("fill","none").attr("stroke","#e3c22c").attr("stroke-width",1.4)
 .attr("d",d3.line().x(d=>x(d[0])).y(d=>yR(d[1])));
svg.append("line").attr("x1",L).attr("x2",R).attr("y1",VB+.5).attr("y2",VB+.5).attr("stroke","#2a2e39");
svg.append("line").attr("x1",R+.5).attr("x2",R+.5).attr("y1",T).attr("y2",RB).attr("stroke","#1e2230");
svg.append("line").attr("x1",L).attr("x2",FR).attr("y1",B).attr("y2",B).attr("stroke","#2a2a2a");

// axes
const axP=svg.append("g").attr("class","axis").attr("transform",`translate(${R},0)`)
 .call(d3.axisRight(y).tickValues(priceTicks.filter(d=>!hiddenPriceLabels.includes(d))).tickSize(0).tickPadding(10).tickFormat(d=>d3.format(",")(d*1000)));
const axR=svg.append("g").attr("class","axis").attr("clip-path","url(#axisR2)").attr("transform",`translate(${R},0)`)
 .call(d3.axisRight(yR).tickValues(rsiTicks).tickSize(0).tickPadding(10).tickFormat(d3.format(".2f")));
const axT=svg.append("g").attr("class","axis").attr("transform",`translate(0,${RB})`)
 .call(d3.axisBottom(x).tickValues(timeIdx).tickSize(0).tickPadding(10).tickFormat((d,i)=>timeLabels[i]));
axT.selectAll("text").style("fill",(d,i)=>/^20/.test(timeLabels[i])?"#d1d4dc":"#b2b5be");
axP.selectAll(".domain").remove();axR.selectAll(".domain").remove();axT.selectAll(".domain").remove();

// price tags
function tag(p,h,w,bg,fg,lines){
  const yc=y(p)-h/2;
  const g=svg.append("g");
  g.append("rect").attr("x",R+1).attr("y",yc).attr("width",w).attr("height",h).attr("rx",1.5).attr("fill",bg);
  lines.forEach((s,i)=>g.append("text").attr("x",R+10).attr("y",yc+13+i*15.5).attr("fill",fg).style("font-size","12.5px").text(s));
}
tag(107.43,18,59,"#ff0000","#fff",["107,430"]);
tag(71.76,17,50,"#00ff00","#000",["71,760"]);
tag(90.25,18,50,"#00ff00","#000",["92,290"]);
{const g=svg.append("g");
 g.append("rect").attr("x",R+1).attr("y",541).attr("width",62).attr("height",33).attr("rx",1.5).attr("fill",RED);
 g.append("text").attr("x",R+10).attr("y",554).attr("fill","#fff").style("font-size","12.5px").text("92,870");
 g.append("text").attr("x",R+10).attr("y",569).attr("fill","#fff").style("font-size","12.5px").text("16:13:07");}
svg.append("rect").attr("x",2485.5).attr("y",33).attr("width",59).attr("height",25).attr("rx",3).attr("fill","#111").attr("stroke","#2e2e2e");
svg.append("text").attr("x",2495).attr("y",50).attr("fill","#c8c8c8").style("font-size","12.5px").text("USD");

// performance table
const tbl=svg.append("g");
function cells(rowY,h,labels,colourFn){
  tbl.append("g").selectAll("rect").data(labels).join("rect").attr("x",(d,i)=>tableEdges[i]+.5).attr("y",rowY).attr("width",(d,i)=>tableEdges[i+1]-tableEdges[i]-1).attr("height",h).attr("fill",colourFn);
  tbl.append("g").selectAll("text").data(labels).join("text").attr("x",(d,i)=>(tableEdges[i]+tableEdges[i+1])/2).attr("y",rowY+h/2+5).attr("text-anchor","middle").attr("fill","#f2f2f2").style("font-size","14px").text(d=>d);
}
cells(38,27,tableYears,(d,i)=>(i===0||i>8)?"#2a56d3":"#212530");
cells(66,26,tablePerf,(d,i)=>i===0?"#2a56d3":(d[0]==="-"?"#a13a3c":"#3a7239"));
// third arrow sits on top of the table
svg.append("path").attr("fill","#ffeb3b").attr("d",`M${x(382.6)-3.5},65H${x(382.6)+3.5}V92.7H${x(382.6)+10}L${x(382.6)},105.7L${x(382.6)-10},92.7H${x(382.6)-3.5}Z`);

// Bitcoin logo
const logo=svg.append("g").attr("transform","translate(48,113.4) scale(5.72)");
logo.append("circle").attr("cx",32).attr("cy",32).attr("r",32).attr("fill","#f7931a");
logo.append("path").attr("fill","#fff").attr("d","M46.11 27.441c.636-4.258-2.606-6.547-7.039-8.074l1.438-5.768-3.512-.875-1.4 5.616c-.922-.23-1.87-.447-2.812-.662l1.41-5.653-3.509-.875-1.439 5.766c-.764-.174-1.514-.346-2.242-.527l.004-.018-4.842-1.209-.934 3.75s2.605.597 2.55.634c1.422.355 1.68 1.296 1.636 2.042l-1.638 6.571c.098.025.225.061.365.117l-.37-.092-2.297 9.205c-.174.432-.615 1.08-1.609.834.035.051-2.552-.637-2.552-.637l-1.743 4.02 4.57 1.139c.85.213 1.683.436 2.502.646l-1.453 5.835 3.507.875 1.44-5.772c.957.26 1.887.5 2.797.726L27.504 50.8l3.511.875 1.453-5.823c5.987 1.133 10.49.676 12.383-4.738 1.527-4.36-.075-6.875-3.225-8.516 2.294-.531 4.022-2.04 4.483-5.157zM38.087 38.69c-1.086 4.36-8.426 2.004-10.807 1.412l1.928-7.729c2.38.594 10.011 1.77 8.88 6.317zm1.085-11.312c-.99 3.966-7.1 1.951-9.083 1.457l1.748-7.01c1.983.494 8.367 1.416 7.335 5.553z");

// footer brand
const wm=svg.append("g").attr("transform","translate(13,1324)").attr("fill","#d9d9d9");
wm.append("path").attr("d","M0 1H13V16H7V7H0Z");
wm.append("circle").attr("cx",17).attr("cy",4).attr("r",3);
wm.append("path").attr("d","M20.5 16L25.5 1H31L25.5 16Z");
svg.append("text").attr("x",51).attr("y",1340).attr("fill","#d9d9d9").attr("stroke","#d9d9d9").attr("stroke-width",.8).style("font-size","21px").attr("textLength",125).attr("lengthAdjust","spacingAndGlyphs").text("TradingView");
</script>
</body></html>
